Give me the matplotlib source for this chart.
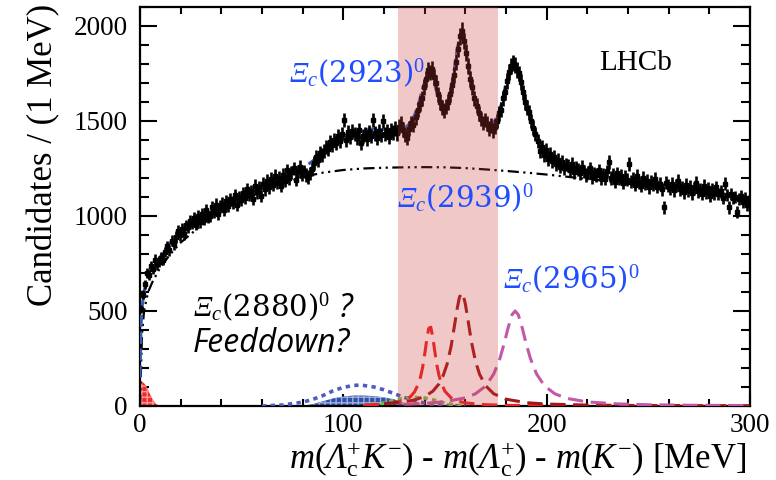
import matplotlib.pyplot as plt
import numpy as np

# math text: Liberation Serif, with \mathbf used as the italic Greek face
plt.rcParams['mathtext.rm'] = 'Liberation Serif'
plt.rcParams['mathtext.it'] = 'Liberation Serif:italic'
plt.rcParams['mathtext.bf'] = 'Liberation Serif:italic'

# candidates per 1 MeV bin, bins 0-1, 1-2, ... 299-300 MeV
counts = [
    510, 585, 640, 700, 690, 735, 720, 770, 745, 760,
    780, 770, 810, 840, 820, 870, 850, 890, 920, 900,
    930, 905, 950, 940, 975, 960, 990, 955, 1000, 970,
    1010, 985, 1030, 995, 1000, 1045, 1020, 1060, 1010, 1050,
    1065, 1030, 1080, 1055, 1090, 1070, 1110, 1060, 1100, 1085,
    1120, 1095, 1140, 1110, 1130, 1090, 1160, 1125, 1150, 1105,
    1170, 1140, 1185, 1150, 1195, 1165, 1210, 1175, 1200, 1160,
    1215, 1185, 1240, 1200, 1230, 1250, 1190, 1235, 1260, 1220,
    1235, 1215, 1205, 1225, 1245, 1280, 1310, 1295, 1330, 1320,
    1340, 1365, 1350, 1390, 1375, 1400, 1385, 1420, 1395, 1430,
    1505, 1400, 1440, 1415, 1445, 1430, 1410, 1450, 1385, 1420,
    1430, 1405, 1440, 1420, 1505, 1435, 1410, 1445, 1425, 1500,
    1430, 1445, 1415, 1450, 1440, 1460, 1435, 1470, 1485, 1455,
    1425, 1410, 1460, 1490, 1480, 1520, 1560, 1590, 1620, 1680,
    1720, 1770, 1755, 1775, 1730, 1700, 1640, 1600, 1570, 1555,
    1575, 1600, 1640, 1690, 1740, 1810, 1880, 1945, 1975, 1920,
    1860, 1790, 1720, 1680, 1620, 1580, 1540, 1510, 1490, 1505,
    1485, 1460, 1475, 1450, 1470, 1500, 1540, 1560, 1620, 1650,
    1710, 1760, 1790, 1805, 1795, 1770, 1750, 1705, 1650, 1600,
    1570, 1545, 1500, 1465, 1430, 1395, 1340, 1365, 1320, 1345,
    1300, 1325, 1290, 1310, 1275, 1295, 1260, 1285, 1250, 1270,
    1265, 1240, 1275, 1230, 1255, 1245, 1225, 1260, 1235, 1215,
    1230, 1250, 1205, 1225, 1215, 1240, 1200, 1220, 1195, 1235,
    1285, 1200, 1215, 1180, 1225, 1195, 1210, 1175, 1205, 1190,
    1275, 1180, 1195, 1165, 1210, 1175, 1160, 1200, 1170, 1185,
    1150, 1180, 1165, 1195, 1155, 1170, 1140, 1045, 1175, 1160,
    1145, 1170, 1135, 1160, 1185, 1140, 1150, 1125, 1165, 1135,
    1155, 1120, 1145, 1175, 1130, 1140, 1115, 1160, 1125, 1145,
    1105, 1140, 1120, 1150, 1115, 1130, 1095, 1170, 1110, 1045,
    1115, 1095, 1100, 1020, 1090, 1105, 1075, 1095, 1060, 1080,
]
mass = np.arange(len(counts)) + 0.5

# total fit
fit_x = [0, 0.5, 1, 2, 3, 4, 5, 6, 8, 10, 12, 15, 20, 25, 30, 35, 40, 45, 50, 55,
         60, 65, 70, 75, 80, 85, 90, 95, 100, 105, 110, 115, 120, 125, 130, 133,
         135, 137, 139, 141, 142.5, 144, 146, 148, 150, 152, 154, 156, 157.5, 159,
         161, 163, 165, 167, 170, 173, 176, 178, 180, 182, 184, 186, 188, 190, 192,
         195, 198, 201, 205, 210, 215, 220, 230, 240, 250, 260, 270, 280, 290, 300]
fit_y = [150, 420, 520, 600, 650, 690, 715, 730, 755, 785, 815, 860, 915, 955, 985,
         1015, 1045, 1075, 1100, 1120, 1145, 1170, 1195, 1220, 1250, 1290, 1335, 1380,
         1415, 1440, 1455, 1458, 1455, 1448, 1460, 1490, 1530, 1590, 1670, 1740, 1765,
         1730, 1650, 1580, 1565, 1620, 1730, 1880, 1955, 1930, 1830, 1700, 1600, 1530,
         1480, 1475, 1530, 1600, 1700, 1770, 1795, 1760, 1670, 1580, 1510, 1430, 1360,
         1320, 1285, 1260, 1240, 1228, 1208, 1190, 1172, 1157, 1142, 1127, 1108, 1085]

# combinatorial background
bkg_x = [0, 1, 2, 4, 6, 10, 15, 20, 30, 40, 50, 60, 70, 80, 90, 100, 110, 120, 130,
         140, 150, 160, 170, 180, 190, 200, 220, 240, 260, 280, 300]
bkg_y = [0, 380, 500, 600, 650, 730, 800, 860, 950, 1030, 1080, 1130, 1170, 1205,
         1228, 1242, 1250, 1254, 1256, 1257, 1256, 1252, 1245, 1237, 1228, 1218,
         1195, 1170, 1145, 1115, 1080]

# Xi_c(2923)0
r1_x = [110, 120, 125, 130, 133, 135, 137, 138, 139, 140, 141, 142, 143, 144, 145,
        146, 147, 148, 150, 153, 156, 160, 170, 180, 200, 230, 300]
r1_y = [4.8, 9.8, 16, 30, 49, 74, 118, 154, 204, 271, 347, 408, 415, 362, 286, 216,
        163, 124, 77, 43, 27, 16, 6.7, 3.6, 1.6, 0.7, 0.2]

# Xi_c(2939)0
r2_x = [120, 130, 135, 140, 144, 147, 149, 151, 153, 155, 156, 157, 158, 159, 160,
        161, 163, 165, 167, 170, 174, 180, 190, 200, 220, 250, 300]
r2_y = [12.1, 21.8, 31.6, 49.8, 77.6, 115.6, 157, 219, 314, 445, 513, 568, 594, 583,
        537, 473, 338, 235, 167, 106, 64, 35.6, 17.3, 10.1, 4.7, 2.1, 0.9]

# Xi_c(2965)0
r3_x = [130, 140, 150, 160, 165, 170, 174, 177, 179, 181, 183, 184.5, 186, 188, 190,
        192, 195, 199, 204, 210, 220, 235, 250, 270, 300]
r3_y = [9.3, 13.8, 22.5, 42.8, 64.4, 105, 169, 250, 325, 410, 481, 500, 481, 410,
        325, 250, 169, 105, 64.4, 39.8, 21.4, 10.8, 6.5, 3.8, 2.1]

# feed-down shapes
fd_x = [60, 70, 80, 85, 90, 95, 100, 105, 108, 110, 115, 120, 125, 130, 135, 140,
        145, 150, 160]
fd_y = [0, 5, 20, 35, 55, 80, 98, 108, 110, 108, 100, 85, 65, 45, 28, 15, 7, 3, 0]
fdfill_x = [80, 85, 90, 95, 100, 105, 110, 115, 120, 125, 128, 130, 135, 140]
fdfill_y = [0, 10, 25, 40, 50, 55, 55, 52, 45, 35, 25, 15, 5, 0]
gr_x = [110, 120, 125, 130, 135, 140, 145, 150, 155, 160]
gr_y = [0, 15, 30, 42, 45, 42, 30, 15, 5, 0]
thr_x = [0, 1, 2, 3, 4, 5, 6, 7, 8, 9, 10]
thr_y = [130, 128, 120, 105, 85, 60, 40, 22, 10, 4, 0]

fig = plt.figure(figsize=(7.76, 4.8), dpi=100)
ax = fig.add_axes([0.1804, 0.1542, 0.7861, 0.8313])

ax.fill_between(thr_x, thr_y, facecolor='#ee2a2a', edgecolor='#ff9a9a',
                hatch='+++', linewidth=0, zorder=2)
ax.fill_between(fdfill_x, fdfill_y, facecolor='#3050a8', edgecolor='#9fb0e0',
                hatch='+++', linewidth=0, zorder=2)
ax.plot(fd_x, fd_y, color='#4c5cc0', ls=(0, (1.2, 1.2)), lw=2.6, zorder=3)
ax.plot(gr_x, gr_y, color='#70c040', ls=(0, (1.2, 1.2)), lw=2.6, zorder=3)
ax.plot(r1_x, r1_y, color='#ee2222', ls=(0, (5, 2.5)), lw=2.2, zorder=3)
ax.plot(r2_x, r2_y, color='#a01818', ls=(0, (5, 2.5)), lw=2.2, zorder=3)
ax.plot(r3_x, r3_y, color='#c458a8', ls=(0, (5, 2.5)), lw=2.2, zorder=3)

ax.plot(bkg_x, bkg_y, color='black', ls=(0, (5, 2, 1, 2, 1, 2)), lw=1.6, zorder=3)
ax.plot(fit_x, fit_y, color='#3a5cb0', ls=(0, (4, 1.5)), lw=2.2, zorder=3)

ax.errorbar(mass, counts, yerr=np.sqrt(counts), xerr=0.5, fmt='s', ms=3.2,
            color='black', elinewidth=1.9, capsize=0, zorder=4)

ax.axvspan(127, 176, color='#d03a3a', alpha=0.28, lw=0, zorder=5)

ax.set_xlim(0, 300)
ax.set_ylim(0, 2100)
ax.set_xticks([0, 100, 200, 300])
ax.set_xticks(np.arange(0, 301, 20), minor=True)
ax.set_yticks([0, 500, 1000, 1500, 2000])
ax.set_yticks(np.arange(0, 2101, 100), minor=True)
ax.tick_params(which='both', direction='in', top=True, right=True, width=1.5)
ax.tick_params(axis='x', which='major', length=9, pad=5)
ax.tick_params(axis='x', which='minor', length=5)
ax.tick_params(axis='y', which='major', length=12, pad=9)
ax.tick_params(axis='y', which='minor', length=6.5)
for lab in ax.get_xticklabels() + ax.get_yticklabels():
    lab.set_fontfamily('Liberation Serif')
    lab.set_fontsize(19.5)
for sp in ax.spines.values():
    sp.set_linewidth(1.6)

ax.set_ylabel('Candidates / (1 MeV)', fontfamily='Liberation Serif', fontsize=25)
ax.yaxis.set_label_coords(-0.13, 0.63)
ax.set_xlabel(r'$m(\mathbf{\Lambda}_{\mathrm{c}}^{+}K^{-})$ - '
              r'$m(\mathbf{\Lambda}_{\mathrm{c}}^{+})$ - $m(K^{-})$ [MeV]',
              fontfamily='Liberation Serif', fontsize=25, math_fontfamily='custom')
ax.xaxis.set_label_coords(0.993, -0.083)
ax.xaxis.label.set_horizontalalignment('right')

ax.text(0.752, 0.86, 'LHCb', transform=ax.transAxes, fontfamily='Liberation Serif',
        fontsize=21, va='center', ha='left')

blue = '#1f4dff'
names = [r'$\mathbf{\Xi}_{c}$(2923)$^{0}$', r'$\mathbf{\Xi}_{c}$(2939)$^{0}$',
         r'$\mathbf{\Xi}_{c}$(2965)$^{0}$']
name_pos = [(73.5, 1700), (126.5, 1045), (178.5, 615)]
for name, (nx, ny) in zip(names, name_pos):
    ax.text(nx, ny, name, color=blue, fontsize=21, fontfamily='DejaVu Serif',
            math_fontfamily='custom', va='baseline', zorder=6)

ax.text(26, 468, r'$\mathbf{\Xi}_{c}$(2880)$^{0}$', color='black', fontsize=21,
        fontfamily='DejaVu Serif', math_fontfamily='custom', va='baseline', zorder=6)
ax.text(97.5, 468, '?', color='black', fontsize=23, fontfamily='Open Sans',
        style='italic', va='baseline', zorder=6)
ax.text(26, 284, 'Feeddown?', color='black', fontsize=23, fontfamily='Open Sans',
        style='italic', va='baseline', zorder=6)

fig.savefig('out.png', dpi=100)
